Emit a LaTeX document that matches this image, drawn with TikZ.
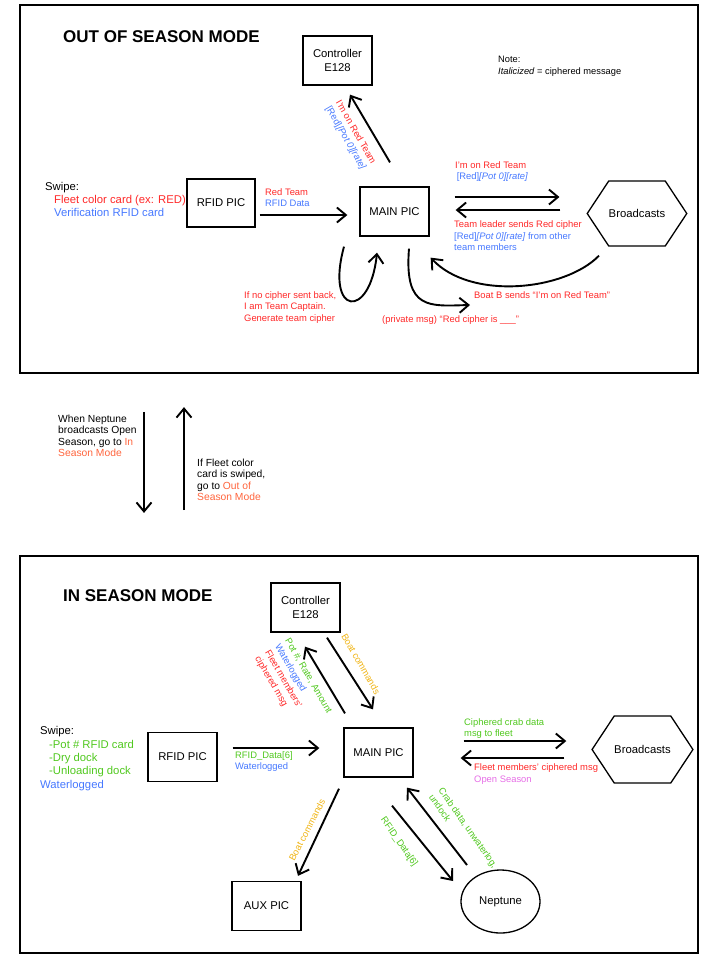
\documentclass[tikz,border=0pt]{standalone}
\usepackage{fontspec}
\setmainfont{Liberation Sans}
\usepackage{tikz}
\usetikzlibrary{arrows.meta,shapes.geometric,shapes.symbols,calc}

\definecolor{teamred}{RGB}{255,40,40}
\definecolor{datablue}{RGB}{70,120,255}
\definecolor{potgreen}{RGB}{80,200,30}
\definecolor{cmdgold}{RGB}{240,180,20}
\definecolor{modeorange}{RGB}{255,100,60}
\definecolor{seasonpink}{RGB}{230,110,230}

\tikzset{
  modeframe/.style={draw, line width=1.8pt, inner sep=0pt},
  modetitle/.style={font=\fontsize{17}{20}\selectfont\bfseries, inner sep=0pt},
  chipbox/.style={draw, line width=1.3pt, minimum width=69pt, minimum height=49pt,
    inner sep=0pt, align=center, font=\fontsize{11.3}{14}\selectfont},
  bcast/.style={draw, line width=1.3pt, signal, signal to=east and west,
    signal pointer angle=113, minimum width=86pt, minimum height=65pt, inner sep=0pt,
    font=\fontsize{11.3}{14}\selectfont},
  nep/.style={draw, line width=1.3pt, ellipse, minimum width=79pt, minimum height=63pt,
    inner sep=0pt, font=\fontsize{11.3}{14}\selectfont},
  swipe/.style={align=left, inner sep=0pt, font=\fontsize{11.3}{13.3}\selectfont},
  msg/.style={align=left, inner sep=0pt, font=\fontsize{9.4}{11.6}\selectfont},
  side/.style={align=left, inner sep=0pt, font=\fontsize{10.3}{11.5}\selectfont},
  msgarrow/.style={line width=1.9pt, -{Straight Barb[length=9pt,width=15pt]}}
}

\begin{document}
\begin{tikzpicture}[x=1pt,y=-1pt]
\useasboundingbox (0,0) rectangle (714,954);

% out of season mode
\node[modeframe, minimum width=678pt, minimum height=368pt] (oosframe) at (359,189) {};
\node[modetitle, anchor=west] (oostitle) at (63,37) {OUT OF SEASON MODE};
\node[chipbox] (ctrlA) at (337.5,60.5) {Controller\\E128};
\node[chipbox] (mainA) at (394.5,211.5) {MAIN PIC};
\node[chipbox, minimum width=68pt, minimum height=48pt] (rfidA) at (221,203) {RFID PIC};
\node[bcast] (bcA) at (637,213.5) {Broadcasts};
\node[msg, anchor=west, font=\fontsize{9.3}{12}\selectfont] (note) at (498,66)
  {Note:\\\textit{Italicized} = ciphered message};
\node[swipe, anchor=west] (swipeA) at (45,199.5)
  {Swipe:\\\hspace*{9pt}\textcolor{teamred}{Fleet color card (ex: RED)}\\
   \hspace*{9pt}\textcolor{datablue}{Verification RFID card}};

\node[msg, anchor=west] (rfidmsgA) at (265,197.5)
  {\textcolor{teamred}{Red Team}\\\textcolor{datablue}{RFID Data}};
\node[msg, rotate=-60] (ctrlmsgA) at (350.5,135.4)
  {\textcolor{teamred}{I'm on Red Team}\\\textcolor{datablue}{[Red]\textit{[Pot 0][rate]}}};
\node[msg, anchor=west] (teamA) at (455,171.5)
  {\textcolor{teamred}{I'm on Red Team}\\\textcolor{datablue}{\,[Red]\textit{[Pot 0][rate]}}};
\node[msg, anchor=west] (leaderA) at (454,236)
  {\textcolor{teamred}{Team leader sends Red cipher}\\
   \textcolor{datablue}{[Red]\textit{[Pot 0][rate]} from other}\\
   \textcolor{datablue}{team members}};
\node[msg, anchor=west, text=teamred] (captA) at (244,307.5)
  {If no cipher sent back,\\I am Team Captain.\\Generate team cipher};
\node[msg, anchor=west, text=teamred] (bsend) at (474,295) {Boat B sends “I'm on Red Team”};
\node[msg, anchor=west, text=teamred] (privA) at (382,320) {(private msg) “Red cipher is \_\_\_”};

\draw[msgarrow] ($(rfidA.east)+(4,12)$) -- ($(mainA.west)+(-12,3.5)$);
\draw[msgarrow] ($(mainA.north)+(-4.5,-24)$) -- ($(ctrlA.south)+(12.5,9)$);
\draw[msgarrow] ($(mainA.east)+(25,-14.5)$) -- ($(bcA.west)+(-27,-16.5)$);
\draw[msgarrow] ($(bcA.west)+(-26,-3.5)$) -- ($(mainA.east)+(26,-1.5)$);
\draw[msgarrow] ($(bcA.south)+(-38,9)$) .. controls +(-34,35) and +(40,43) .. ($(mainA.south east)+(1,21)$);
\draw[msgarrow] ($(mainA.south)+(-50.5,10)$) .. controls +(-19,69) and +(-7,68) .. ($(mainA.south)+(-17.5,16)$);
\draw[msgarrow] ($(mainA.south)+(14.5,12)$) .. controls +(-5,62) and +(-40,1) .. ($(bsend.west)+(-4,10)$);

% in season mode
\node[modeframe, minimum width=678pt, minimum height=397pt] (isframe) at (359,754.5) {};
\node[modetitle, anchor=west] (istitle) at (63,596) {IN SEASON MODE};
\node[chipbox] (ctrlB) at (305.5,607.5) {Controller\\E128};
\node[chipbox] (mainB) at (378.5,752.5) {MAIN PIC};
\node[chipbox] (rfidB) at (182.5,757) {RFID PIC};
\node[chipbox] (auxB) at (266.5,906) {AUX PIC};
\node[bcast, minimum width=85pt, minimum height=67pt] (bcB) at (642.5,749.5) {Broadcasts};
\node[nep] (nepB) at (500.5,901.5) {Neptune};
\node[swipe, anchor=west] (swipeB) at (40,758.5)
  {Swipe:\\\hspace*{9pt}\textcolor{potgreen}{-Pot \# RFID card}\\
   \hspace*{9pt}\textcolor{potgreen}{-Dry dock}\\
   \hspace*{9pt}\textcolor{potgreen}{-Unloading dock}\\
   \textcolor{datablue}{Waterlogged}};

\node[msg, anchor=west] (rfidmsgB) at (235,761.5)
  {\textcolor{potgreen}{RFID\_Data[6]}\\\textcolor{datablue}{Waterlogged}};
\node[msg, rotate=-60] (ctrlmsgB) at (293,685)
  {\textcolor{potgreen}{Pot \#, Rate, Amount}\\\textcolor{datablue}{Waterlogged}\\
   \textcolor{teamred}{Fleet members'}\\\textcolor{teamred}{ciphered msg}};
\node[msg, rotate=-60, text=cmdgold] (cmdB) at (361,664) {Boat commands};
\node[msg, rotate=62.5, text=cmdgold] (auxcmdB) at (307,830) {Boat commands};
\node[msg, rotate=-55, text=potgreen] (nepmsgB) at (399,842) {RFID\_Data[6]};
\node[msg, rotate=-55, text=potgreen] (crabB) at (463.5,831) {Crab data, unwaterlog,\\undock};
\node[msg, anchor=west, text=potgreen] (fleetB) at (464,728.5) {Ciphered crab data\\msg to fleet};
\node[msg, anchor=west] (seasonB) at (474,774)
  {\textcolor{teamred}{Fleet members' ciphered msg}\\\textcolor{seasonpink}{Open Season}};

\draw[msgarrow] ($(rfidB.east)+(15,-9)$) -- ($(mainB.west)+(-24,-4.5)$);
\draw[msgarrow] ($(mainB.north)+(-33.5,-14)$) -- ($(ctrlB.south)+(-0.5,14)$);
\draw[msgarrow] ($(ctrlB.south)+(21.5,5)$) -- ($(mainB.north)+(-5.5,-18)$);
\draw[msgarrow] ($(mainB.east)+(50,-11.5)$) -- ($(bcB.west)+(-25,-8.5)$);
\draw[msgarrow] ($(bcB.west)+(-27,8.5)$) -- ($(mainB.east)+(47,5.5)$);
\draw[msgarrow] ($(mainB.south)+(-39.5,11)$) -- ($(auxB.north)+(31.5,-5)$);
\draw[msgarrow] ($(mainB.south)+(13.5,28)$) -- ($(nepB.center)+(-47.5,-20.5)$);
\draw[msgarrow] ($(nepB.center)+(-33.5,-36.5)$) -- ($(mainB.south)+(28.5,10)$);

% switching modes
\node[side, anchor=west] (toin) at (58,436)
  {When Neptune\\broadcasts Open\\Season, go to \textcolor{modeorange}{In}\\\textcolor{modeorange}{Season Mode}};
\node[side, anchor=west] (toout) at (197,480)
  {If Fleet color\\card is swiped,\\go to \textcolor{modeorange}{Out of}\\\textcolor{modeorange}{Season Mode}};
\draw[msgarrow] ([xshift=-215pt]oosframe.south) ++(0,38) -- ++(0,101);
\draw[msgarrow] ([xshift=-175pt]isframe.north) ++(0,-45) -- ++(0,-103);
\end{tikzpicture}
\end{document}
